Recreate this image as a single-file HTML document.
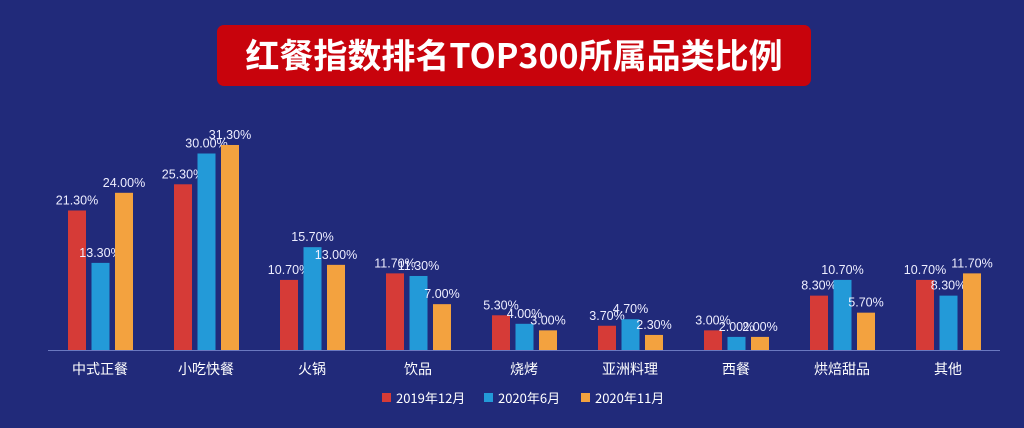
<!DOCTYPE html><html><head><meta charset="utf-8"><style>
body{margin:0;width:1024px;height:423px;background:#212a7a;overflow:hidden;font-family:"Liberation Sans","Noto Sans CJK SC",sans-serif}
</style></head><body>
<svg width="1024" height="423" xmlns="http://www.w3.org/2000/svg" font-family="Liberation Sans, Noto Sans CJK SC, sans-serif">
<rect x="0" y="0" width="1024" height="423" fill="#212a7a"/>
<rect x="217" y="25" width="594" height="61" rx="7" fill="#c8030c"/>
<text x="514" y="68" text-anchor="middle" fill="#fff" font-size="34" font-weight="bold" font-family="Noto Sans CJK SC, sans-serif">红餐指数排名TOP300所属品类比例</text>
<line x1="48" y1="350.5" x2="1000" y2="350.5" stroke="#6a78c0" stroke-width="1"/>
<g id="bars"></g>
<g font-size="14" fill="#fff" text-anchor="middle" font-family="Noto Sans CJK SC, sans-serif">
<text x="100" y="374">中式正餐</text><text x="206" y="374">小吃快餐</text><text x="312" y="374">火锅</text><text x="418" y="374">饮品</text><text x="524" y="374">烧烤</text><text x="630" y="374">亚洲料理</text><text x="736" y="374">西餐</text><text x="842" y="374">烘焙甜品</text><text x="948" y="374">其他</text>
</g>
<g font-size="13" fill="#fff" font-family="Noto Sans CJK SC, sans-serif">
<rect x="382" y="393" width="9" height="9" fill="#d63b37"/><text x="396" y="403">2019年12月</text>
<rect x="484" y="393" width="9" height="9" fill="#239ad8"/><text x="498" y="403">2020年6月</text>
<rect x="581" y="393" width="9" height="9" fill="#f3a23f"/><text x="595" y="403">2020年11月</text>
</g>
</svg>
<script>
var d=[[21.3,13.3,24],[25.3,30,31.3],[10.7,15.7,13],[11.7,11.3,7],[5.3,4,3],[3.7,4.7,2.3],[3,2,2],[8.3,10.7,5.7],[10.7,8.3,11.7]];
var c=["#d63b37","#239ad8","#f3a23f"],s="";
d.forEach(function(g,i){g.forEach(function(v,j){var x=68+i*106+j*23.5,h=v*6.55,y=350-h;
s+='<rect x="'+x+'" y="'+y+'" width="18" height="'+h+'" fill="'+c[j]+'"/>';
s+='<text x="'+(x+9)+'" y="'+(y-6)+'" text-anchor="middle" font-size="12.5" fill="#eef">'+v.toFixed(2)+'%</text>';});});
document.getElementById("bars").innerHTML=s;
</script>
</body></html>
